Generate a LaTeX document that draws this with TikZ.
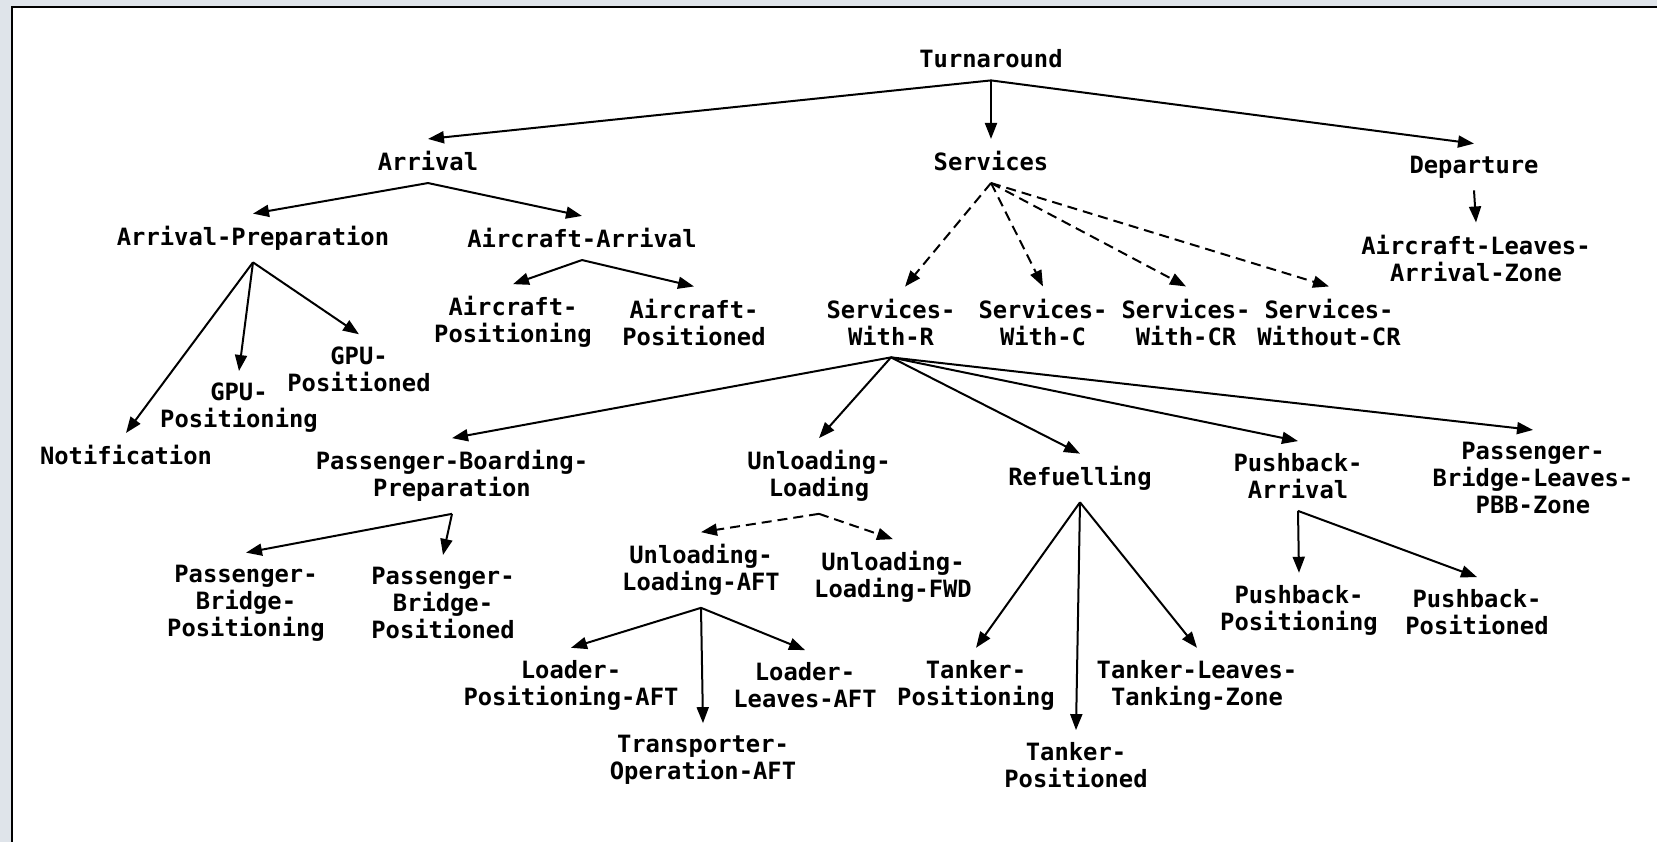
\documentclass[tikz,border=0pt]{standalone}
\usepackage{fontspec}
\setmonofont{DejaVu Sans Mono}
\usetikzlibrary{arrows.meta}
\definecolor{pagegray}{HTML}{DFE4EA}

\begin{document}
\begin{tikzpicture}[x=1pt, y=-1pt,
  lbl/.style={align=center, inner xsep=2pt, inner ysep=12pt, font=\ttfamily\bfseries\fontsize{23.8}{27}\selectfont},
  arr/.style={-{Triangle[length=16pt, width=12pt]}, line width=2pt},
  darr/.style={arr, dash pattern=on 10pt off 6pt}
]
  % page and frame
  \useasboundingbox (0,0) rectangle (1657,842);
  \fill[pagegray] (0,0) rectangle (1657,842);
  \fill[white] (12,7) rectangle (1657,842);
  \draw[line width=2.4pt] (12,842) -- (12,7) -- (1657,7);

  % top levels
  \node[lbl] (turn) at (991,59) {Turnaround};
  \node[lbl] (arr) at (428,161) {Arrival};
  \node[lbl] (serv) at (991,161) {Services};
  \node[lbl] (dep) at (1474,167) {Departure};

  \node[lbl] (arrprep) at (253,238) {Arrival-Preparation};
  \node[lbl] (acarr) at (582,238) {Aircraft-Arrival};
  \node[lbl] (acleaves) at (1476,258) {Aircraft-Leaves-\\Arrival-Zone};

  \node[lbl] (acpos) at (513,322) {Aircraft-\\Positioning};
  \node[lbl] (acposd) at (694,322) {Aircraft-\\Positioned};
  \node[lbl] (swr) at (891,322) {Services-\\With-R};
  \node[lbl] (swc) at (1043,322) {Services-\\With-C};
  \node[lbl] (swcr) at (1186,322) {Services-\\With-CR};
  \node[lbl] (swocr) at (1329,322) {Services-\\Without-CR};

  \node[lbl] (gpupd) at (359,369) {GPU-\\Positioned};
  \node[lbl] (gpupos) at (239,408) {GPU-\\Positioning};
  \node[lbl] (notif) at (126,455) {Notification};

  % services with R
  \node[lbl] (pbprep) at (452,476) {Passenger-Boarding-\\Preparation};
  \node[lbl] (ul) at (819,476) {Unloading-\\Loading};
  \node[lbl] (refuel) at (1080,478) {Refuelling};
  \node[lbl] (pusharr) at (1298,476) {Pushback-\\Arrival};
  \node[lbl] (pbbleaves) at (1533,478) {Passenger-\\Bridge-Leaves-\\PBB-Zone};

  \node[lbl] (pbpos) at (246,603) {Passenger-\\Bridge-\\Positioning};
  \node[lbl] (pbposd) at (443,603) {Passenger-\\Bridge-\\Positioned};
  \node[lbl] (ulaft) at (701,570) {Unloading-\\Loading-AFT};
  \node[lbl] (ulfwd) at (893,577) {Unloading-\\Loading-FWD};
  \node[lbl] (pushpos) at (1299,610) {Pushback-\\Positioning};
  \node[lbl] (pushposd) at (1477,612) {Pushback-\\Positioned};

  \node[lbl] (ldpos) at (571,685) {Loader-\\Positioning-AFT};
  \node[lbl] (ldleaves) at (805,685) {Loader-\\Leaves-AFT};
  \node[lbl] (tkpos) at (976,685) {Tanker-\\Positioning};
  \node[lbl] (tkleaves) at (1197,685) {Tanker-Leaves-\\Tanking-Zone};
  \node[lbl] (transp) at (703,760) {Transporter-\\Operation-AFT};
  \node[lbl] (tkposd) at (1076,765) {Tanker-\\Positioned};

  % connectors
  \foreach \c in {arr, serv, dep} \draw[arr] (turn.south) -- (\c.north);
  \foreach \c in {arrprep, acarr} \draw[arr] (arr.south) -- (\c.north);
  \draw[arr] (dep.south) -- (acleaves.north);
  \foreach \c in {notif, gpupos, gpupd} \draw[arr] (arrprep.south) -- (\c.north);
  \foreach \c in {acpos, acposd} \draw[arr] (acarr.south) -- (\c.north);
  \draw[darr] (serv.south) -- ([xshift=14pt]swr.north);
  \foreach \c in {swc, swcr, swocr} \draw[darr] (serv.south) -- (\c.north);
  \foreach \c in {pbprep, ul, refuel, pusharr, pbbleaves} \draw[arr] (swr.south) -- (\c.north);
  \foreach \c in {pbpos, pbposd} \draw[arr] (pbprep.south) -- (\c.north);
  \foreach \c in {ulaft, ulfwd} \draw[darr] (ul.south) -- (\c.north);
  \foreach \c in {tkpos, tkposd, tkleaves} \draw[arr] (refuel.south) -- (\c.north);
  \foreach \c in {pushpos, pushposd} \draw[arr] (pusharr.south) -- (\c.north);
  \foreach \c in {ldpos, transp, ldleaves} \draw[arr] (ulaft.south) -- (\c.north);
\end{tikzpicture}
\end{document}
